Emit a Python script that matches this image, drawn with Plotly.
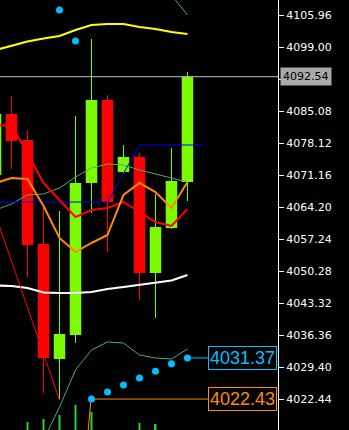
import plotly.graph_objects as go

# ---------------- data ----------------
bars = list(range(13))
opens  = [4071.16, 4084.43, 4078.77, 4056.15, 4031.14, 4036.36, 4069.42, 4087.47, 4071.81, 4075.07, 4049.85, 4059.63, 4069.64]
highs  = [4087.00, 4088.34, 4080.95, 4063.98, 4063.33, 4083.99, 4100.74, 4088.56, 4077.68, 4075.95, 4067.03, 4077.03, 4093.56]
lows   = [4068.50, 4072.46, 4048.97, 4023.75, 4022.22, 4034.62, 4062.90, 4054.41, 4071.60, 4043.97, 4040.06, 4059.41, 4065.50]
closes = [4084.43, 4078.55, 4055.94, 4031.36, 4036.58, 4069.42, 4087.47, 4065.29, 4075.07, 4049.85, 4059.85, 4069.85, 4092.54]

volume = [20, 25, 38, 41, 45, 55, 48, 22, 15, 37, 36, 18, 28]

upper_band  = [4098.35, 4099.32, 4100.19, 4100.85, 4101.39, 4102.70, 4103.79, 4104.00, 4104.00, 4103.35, 4102.92, 4102.26, 4101.83]
lower_band  = [4047.13, 4047.02, 4046.58, 4045.60, 4045.49, 4045.49, 4045.71, 4046.37, 4046.80, 4047.24, 4047.67, 4048.22, 4049.41]
middle_line = [4063.55, 4064.85, 4066.82, 4067.03, 4068.33, 4070.73, 4072.68, 4073.55, 4073.34, 4072.25, 4071.38, 4070.51, 4069.64]
fast_ma     = [4069.42, 4070.51, 4070.29, 4064.42, 4057.46, 4054.41, 4056.37, 4058.11, 4066.81, 4069.42, 4067.46, 4063.98, 4069.64]
slow_ma     = [4082.04, 4081.82, 4075.95, 4069.42, 4065.72, 4062.03, 4063.55, 4063.98, 4065.29, 4063.12, 4060.94, 4060.07, 4063.77]
env_low     = [None, None, None, 4013.52, 4020.70, 4028.75, 4033.10, 4034.84, 4034.62, 4032.01, 4031.36, 4031.14, 4033.32]
env_high    = [None, None, None, None, None, None, None, None, None, None, None, 4110.31, 4105.96]

sar_bars = [4, 5, 6, 7, 8, 9, 10, 11, 12]
sar_vals = [4107.05, 4100.30, 4022.44, 4023.96, 4025.49, 4027.00, 4028.50, 4030.10, 4031.37]

step_x = [0, 7, 9, 13]
step_y = [4065.29, 4065.29, 4077.68, 4077.68]

zig_x = [-1, 4]
zig_y = [4072.53, 4022.22]

lvl_orange_x = [5.7, 5.97, 13.5]
lvl_orange_y = [4012.0, 4022.43, 4022.43]
lvl_cyan_x = [12, 13.5]
lvl_cyan_y = [4031.37, 4031.37]

last_price = 4092.54
cyan_label = 4031.37
orange_label = 4022.43

tick_vals = [4105.96 - 6.96 * k for k in range(14)]
# the 4092.04 label sits behind the current-price tag
tick_text = ["" if abs(v - last_price) < 1 else "%.2f" % v for v in tick_vals]

# ---------------- figure ----------------
UP, DN = "#7CFC00", "#FF0000"
fig = go.Figure()

# volume (separate hidden axis)
fig.add_trace(go.Bar(x=bars, y=volume, width=0.125, marker=dict(color="#32CD32", line=dict(width=0)),
                     yaxis="y2", hoverinfo="skip", showlegend=False))

# candle bodies
cols = [UP if c >= o else DN for o, c in zip(opens, closes)]
fig.add_trace(go.Bar(x=bars, y=[abs(c - o) for o, c in zip(opens, closes)],
                     base=[min(o, c) for o, c in zip(opens, closes)],
                     width=0.72, marker=dict(color=cols, line=dict(width=0)),
                     showlegend=False, hoverinfo="skip"))

# wicks
for color in (UP, DN):
    wx, wy = [], []
    for i, o, h, l, c in zip(bars, opens, highs, lows, closes):
        if (c >= o) == (color == UP):
            wx += [i, i, None]
            wy += [l, h, None]
    fig.add_trace(go.Scatter(x=wx, y=wy, mode="lines", line=dict(color=color, width=1),
                             showlegend=False, hoverinfo="skip"))

def line(x, y, color, width, dash=None):
    fig.add_trace(go.Scatter(x=x, y=y, mode="lines", line=dict(color=color, width=width, dash=dash),
                             showlegend=False, hoverinfo="skip", connectgaps=False))

line(bars, upper_band, "#FFFF00", 2.2)
line(bars, lower_band, "#FFFFFF", 2.2)
line(bars, middle_line, "#3CB371", 1)
line(bars, env_low, "#3CB371", 1)
line(bars, env_high, "#3CB371", 1)
line(step_x, step_y, "#0000FF", 1)
line(bars, slow_ma, "#FF0000", 2)
line(bars, fast_ma, "#FF8C00", 2)
line(zig_x, zig_y, "#FF0000", 1)
line(lvl_orange_x, lvl_orange_y, "#FF8C00", 1)
line(lvl_cyan_x, lvl_cyan_y, "#00BFFF", 1)

fig.add_trace(go.Scatter(x=sar_bars, y=sar_vals, mode="markers",
                         marker=dict(color="#00BFFF", size=7, line=dict(width=0)),
                         showlegend=False, hoverinfo="skip"))

# current price line
fig.add_shape(type="line", xref="paper", x0=0, x1=1, yref="y", y0=last_price, y1=last_price,
              line=dict(color="#C0C0C0", width=1))

fig.add_annotation(xref="paper", x=1, xanchor="left", xshift=2, y=last_price, yanchor="middle",
                   text="%.2f" % last_price, showarrow=False, bgcolor="#A9A9A9", borderpad=2,
                   font=dict(family="DejaVu Sans", size=11, color="#000000"))
fig.add_annotation(xref="paper", x=1, xanchor="right", xshift=-1, y=cyan_label, yanchor="middle",
                   text="%.2f" % cyan_label, showarrow=False, bgcolor="#000000", bordercolor="#00BFFF",
                   borderwidth=1, borderpad=1,
                   font=dict(family="Liberation Sans", size=18, color="#00BFFF"))
fig.add_annotation(xref="paper", x=1, xanchor="right", xshift=-1, y=orange_label, yanchor="middle",
                   text="%.2f" % orange_label, showarrow=False, bgcolor="#000000", bordercolor="#FF8C00",
                   borderwidth=1, borderpad=1,
                   font=dict(family="Liberation Sans", size=18, color="#FF8C00"))

fig.update_layout(
    width=349, height=430, margin=dict(l=0, r=71, t=0, b=0),
    paper_bgcolor="#000000", plot_bgcolor="#000000",
    barmode="overlay", showlegend=False,
    xaxis=dict(range=[0.28, 17.66], visible=False, showgrid=False, zeroline=False),
    yaxis=dict(range=[4015.6975, 4109.2225], side="right", showgrid=False, zeroline=False,
               showline=True, linecolor="#FFFFFF", linewidth=1,
               ticks="outside", ticklen=5, tickcolor="#FFFFFF", tickwidth=1,
               tickvals=tick_vals, ticktext=tick_text,
               tickfont=dict(family="DejaVu Sans", size=11, color="#FFFFFF")),
    yaxis2=dict(range=[30, 460], overlaying="y", visible=False, showgrid=False, zeroline=False),
)

fig.write_html("out.html")
